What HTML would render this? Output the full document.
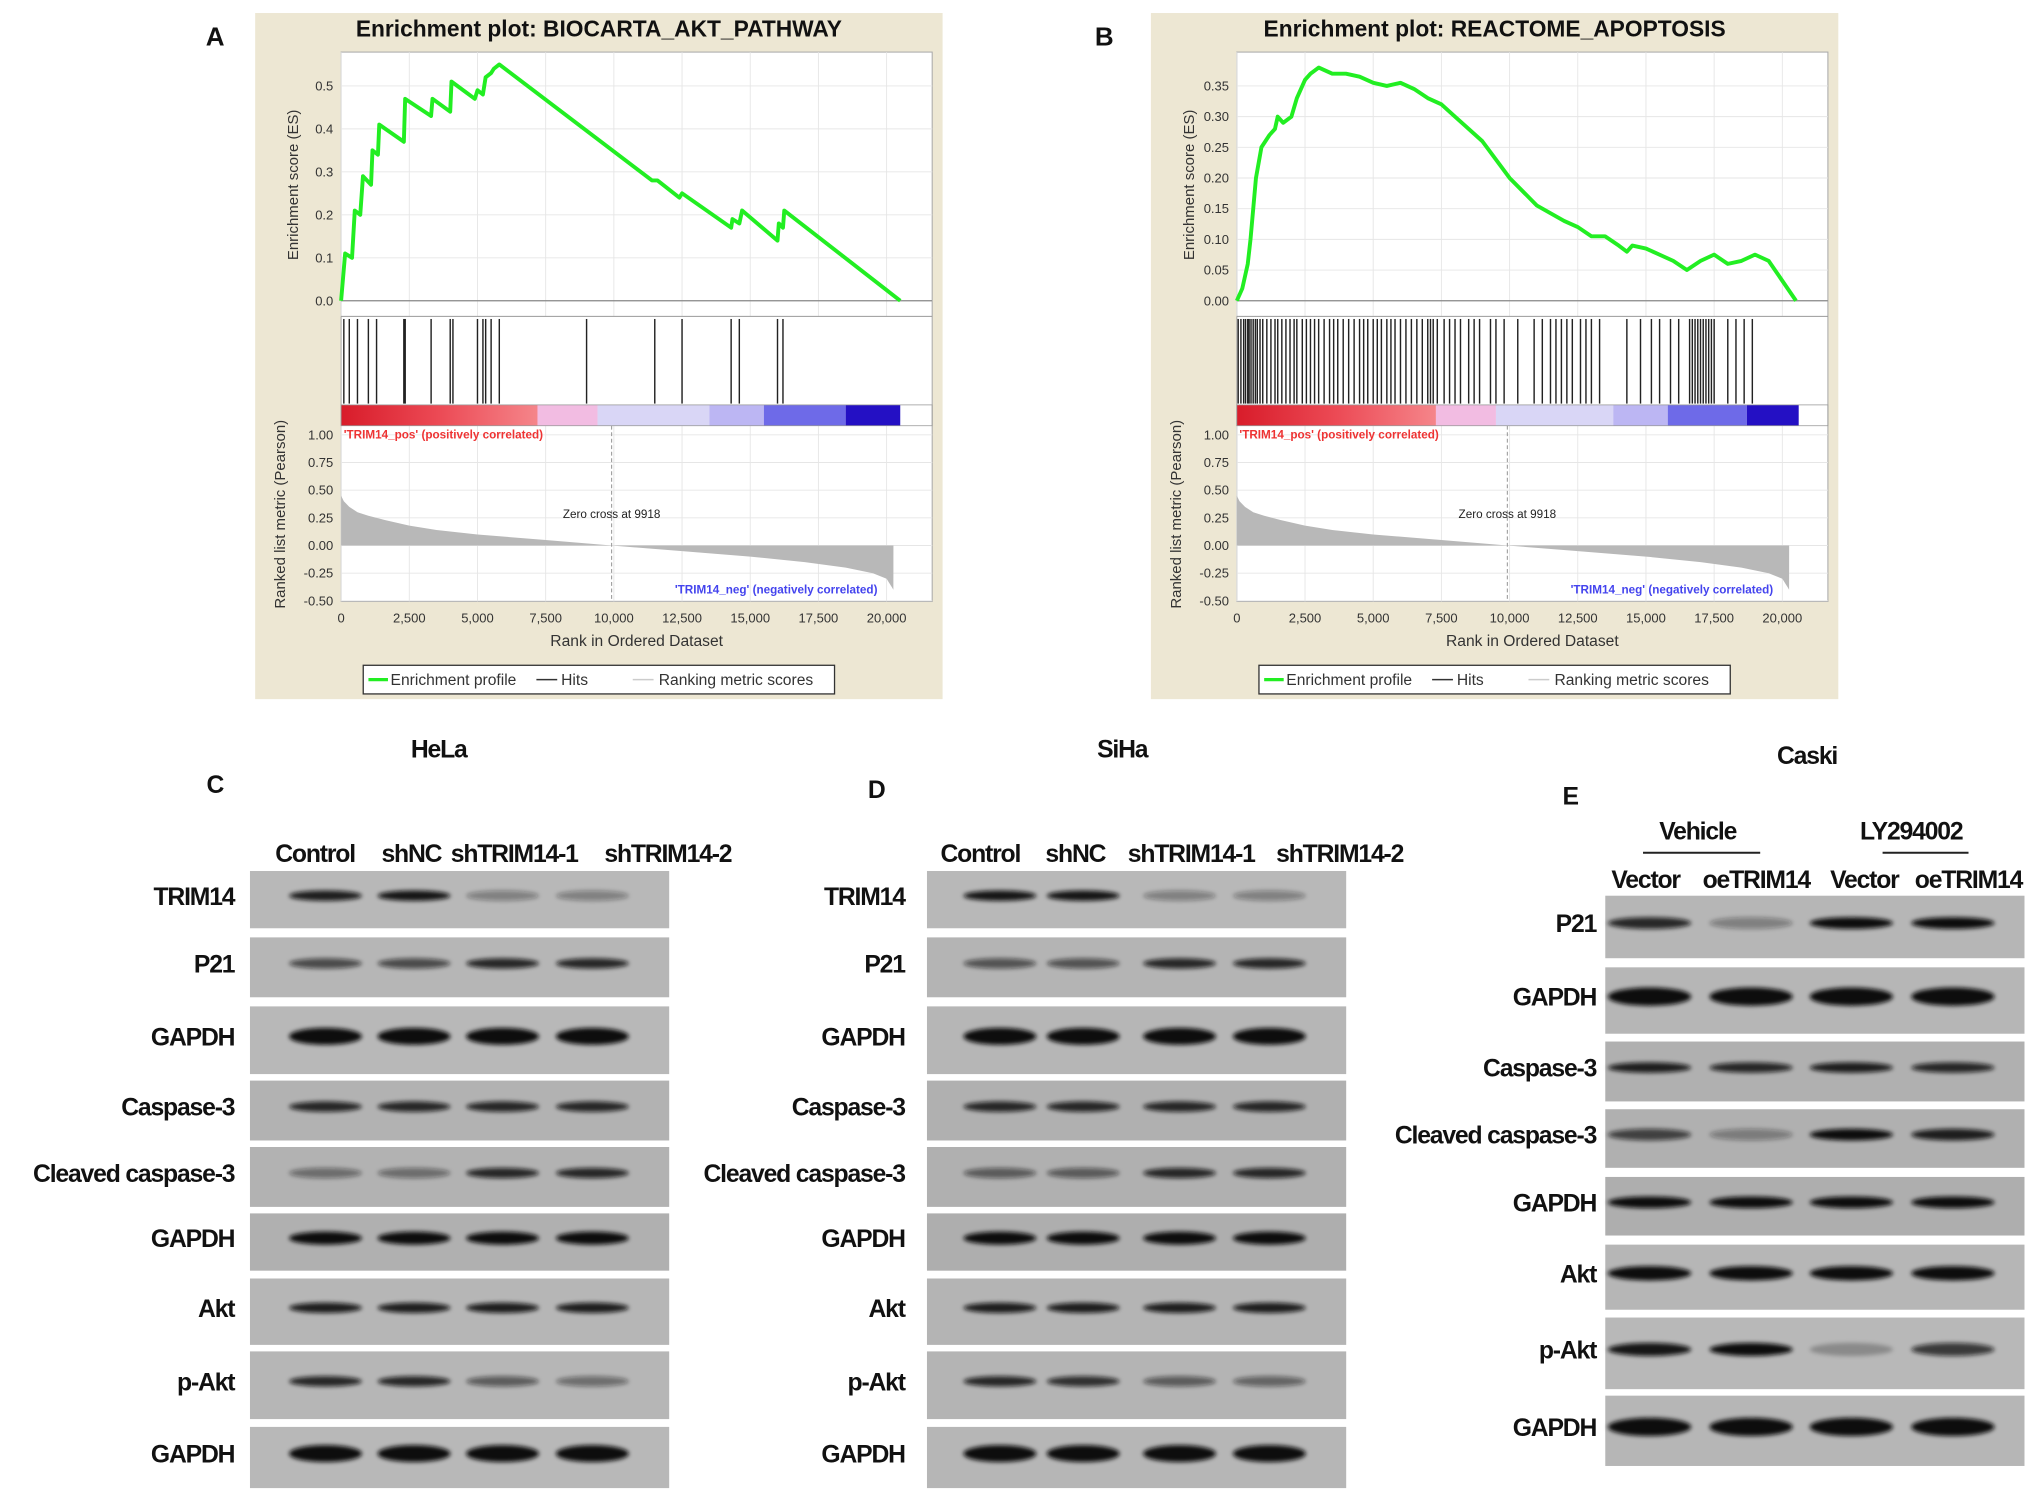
<!DOCTYPE html>
<html><head><meta charset="utf-8"><style>
html,body{margin:0;padding:0;background:#fff}
svg{display:block}
text{font-family:"Liberation Sans",Arial,sans-serif}
.lb{font-weight:bold;fill:#111}
</style></head><body>
<svg id="fig" width="2031" height="1495" viewBox="0 0 1560 1148.3" preserveAspectRatio="none" xmlns="http://www.w3.org/2000/svg">
<defs>
<filter id="bl" x="-20%" y="-100%" width="140%" height="300%"><feGaussianBlur stdDeviation="1.6"/></filter>
<linearGradient id="redg" x1="0" x2="1"><stop offset="0" stop-color="#d81c2a"/><stop offset="0.5" stop-color="#ec4a55"/><stop offset="1" stop-color="#f5858a"/></linearGradient>
</defs>
<g id="gsea"></g>
<g id="blots"></g>
</svg>
<script>
const NS="http://www.w3.org/2000/svg";
// ---- GSEA data ----
const rankTicks=[0,2500,5000,7500,10000,12500,15000,17500,20000];
const rankTickLabels=["0","2,500","5,000","7,500","10,000","12,500","15,000","17,500","20,000"];
const metricTicks=[1.0,0.75,0.5,0.25,0,-0.25,-0.5];
const metricTickLabels=["1.00","0.75","0.50","0.25","0.00","-0.25","-0.50"];
const metricRanks=[0,100,300,600,1000,1600,2500,3500,5000,7500,9918,12500,15000,17000,18500,19500,20000,20200,20250];
const metricVals=[0.45,0.4,0.35,0.3,0.27,0.23,0.18,0.14,0.1,0.05,0,-0.05,-0.1,-0.15,-0.2,-0.25,-0.3,-0.38,-0.4];
const esTicksA=[0,0.1,0.2,0.3,0.4,0.5];
const esTickLabelsA=["0.0","0.1","0.2","0.3","0.4","0.5"];
const esRanksA=[0,150,400,500,700,800,1100,1150,1350,1400,2300,2350,3300,3350,4000,4050,4900,5000,5200,5300,5500,5600,5800,11400,11600,12400,12500,14300,14350,14600,14700,16000,16050,16200,16250,20500];
const esValsA=[0,0.11,0.1,0.21,0.2,0.29,0.27,0.35,0.34,0.41,0.37,0.47,0.43,0.47,0.44,0.51,0.47,0.49,0.48,0.52,0.53,0.54,0.55,0.28,0.28,0.24,0.25,0.17,0.19,0.18,0.21,0.14,0.18,0.17,0.21,0];
const hitsA=[100,300,600,1000,1300,2300,2350,3300,4000,4100,5000,5200,5300,5500,5800,9000,11500,12500,14300,14600,16000,16200];
const esTicksB=[0,0.05,0.1,0.15,0.2,0.25,0.3,0.35];
const esTickLabelsB=["0.00","0.05","0.10","0.15","0.20","0.25","0.30","0.35"];
const esRanksB=[0,200,400,500,700,900,1200,1400,1500,1700,2000,2200,2500,2700,3000,3500,4000,4500,5000,5500,6000,6500,7000,7500,8000,9000,10000,11000,12000,12500,13000,13500,14000,14300,14500,15000,16000,16500,17000,17500,18000,18500,19000,19500,20500];
const esValsB=[0,0.02,0.06,0.1,0.2,0.25,0.27,0.28,0.3,0.29,0.3,0.33,0.36,0.37,0.38,0.37,0.37,0.365,0.355,0.35,0.355,0.345,0.33,0.32,0.3,0.26,0.2,0.155,0.13,0.12,0.105,0.105,0.09,0.08,0.09,0.085,0.065,0.05,0.065,0.075,0.06,0.065,0.075,0.065,0];
const hitsB=[50,150,250,320,400,450,520,600,680,750,850,950,1100,1250,1400,1500,1650,1800,1950,2100,2200,2400,2550,2700,2850,3000,3200,3400,3550,3700,3900,4100,4300,4500,4650,4800,5000,5150,5300,5500,5650,5800,6000,6200,6400,6600,6800,7000,7100,7200,7350,7600,7800,8000,8200,8500,8700,8900,9300,9500,9800,10300,10900,11200,11500,11700,11900,12100,12300,12600,12800,13000,13300,14300,14800,15200,15500,15900,16200,16600,16700,16800,16900,17000,17100,17200,17300,17400,17500,18000,18300,18600,18900];
const barBoundsA=[0,7200,9400,13500,15500,18500,20500];
const barBoundsB=[0,7300,9500,13800,15800,18700,20600];
const barColors=["url(#redg)","#f2bce2","#d9d6f6","#bcb6f3","#6e6ae8","#2410c4"];

function el(tag,attrs,parent,txt){const e=document.createElementNS(NS,tag);for(const k in attrs)e.setAttribute(k,attrs[k]);if(txt!==undefined)e.textContent=txt;parent.appendChild(e);return e;}

function gsea(dx,title,letter,esTicks,esLabels,esMax,esR,esV,hits,bounds){
  const g=el('g',{},document.getElementById('gsea'));
  
  
  const X=r=>262+dx+r*(419/20000);
  const esY=v=>231-v*(165/esMax);
  const mY=v=>419-v*(85/1.0);
  let t=el('text',{x:158+dx-(letter==='B'?5:0),y:35,'font-size':20,'class':'lb'},g,letter);
  
  let bg=el('rect',{x:196+dx,y:10,width:528,height:527,fill:'#ede7d3'},g);
  
  t=el('text',{x:460+dx,y:28,'font-size':17.5,'font-weight':'bold','text-anchor':'middle',fill:'#111'},g,title);
  
  el('rect',{x:262+dx,y:40,width:454,height:422,fill:'#fff',stroke:'#aaa','stroke-width':0.8},g);
  esTicks.forEach((v,i)=>{const y=esY(v);
    el('line',{x1:262+dx,x2:716+dx,y1:y,y2:y,stroke:'#e6e6e6','stroke-width':0.7},g);
    const tt=el('text',{x:256+dx,y:y+3.5,'font-size':10,'text-anchor':'end',fill:'#333'},g,esLabels[i]);
    });
  rankTicks.forEach(r=>{el('line',{x1:X(r),x2:X(r),y1:40,y2:243,stroke:'#e6e6e6','stroke-width':0.7},g);
    el('line',{x1:X(r),x2:X(r),y1:327,y2:462,stroke:'#e6e6e6','stroke-width':0.7},g);});
  el('line',{x1:262+dx,x2:716+dx,y1:esY(0),y2:esY(0),stroke:'#888','stroke-width':1},g);
  el('line',{x1:262+dx,x2:716+dx,y1:243,y2:243,stroke:'#999','stroke-width':0.8},g);
  t=el('text',{x:0,y:0,'font-size':11.5,'text-anchor':'middle',fill:'#333',transform:`translate(${229+dx},142) rotate(-90)`},g,'Enrichment score (ES)');
  
  const pts=esR.map((r,i)=>X(r).toFixed(1)+','+esY(esV[i]).toFixed(1)).join(' ');
  const pl=el('polyline',{points:pts,fill:'none',stroke:'#22ee22','stroke-width':3,'stroke-linejoin':'round'},g);
  
  hits.forEach(r=>{const l=el('line',{x1:X(r),x2:X(r),y1:245,y2:310,stroke:'#222','stroke-width':1.1},g);
    });
  for(let i=0;i<bounds.length-1;i++){const r=el('rect',{x:X(bounds[i]),y:311,width:X(bounds[i+1])-X(bounds[i]),height:16,fill:barColors[i]},g);
    }
  el('rect',{x:262+dx,y:311,width:454,height:16,fill:'none',stroke:'#999','stroke-width':0.6},g);
  metricTicks.forEach((v,i)=>{const y=mY(v);
    el('line',{x1:262+dx,x2:716+dx,y1:y,y2:y,stroke:'#e6e6e6','stroke-width':0.7},g);
    const tt=el('text',{x:256+dx,y:y+3.5,'font-size':10,'text-anchor':'end',fill:'#333'},g,metricTickLabels[i]);
    });
  let d='M'+X(0)+','+mY(0);
  metricRanks.forEach((r,i)=>{d+=' L'+X(r).toFixed(1)+','+mY(metricVals[i]).toFixed(1);});
  d+=' L'+X(20250)+','+mY(0)+' Z';
  const ar=el('path',{d:d,fill:'#b8b8b8'},g);
  
  el('line',{x1:X(9918),x2:X(9918),y1:327,y2:462,stroke:'#999','stroke-dasharray':'3,2','stroke-width':0.8},g);
  el('text',{x:X(9918),y:398,'font-size':9,'text-anchor':'middle',fill:'#222'},g,'Zero cross at 9918');
  el('text',{x:264+dx,y:337,'font-size':9,'font-weight':'bold',fill:'#ee3333'},g,"'TRIM14_pos' (positively correlated)");
  el('text',{x:674+dx,y:456,'font-size':9,'font-weight':'bold','text-anchor':'end',fill:'#4444ee'},g,"'TRIM14_neg' (negatively correlated)");
  t=el('text',{x:0,y:0,'font-size':11.5,'text-anchor':'middle',fill:'#333',transform:`translate(${219+dx},395) rotate(-90)`},g,'Ranked list metric (Pearson)');
  
  rankTicks.forEach((r,i)=>{const tt=el('text',{x:X(r),y:478,'font-size':10,'text-anchor':'middle',fill:'#333'},g,rankTickLabels[i]);
    });
  t=el('text',{x:489+dx,y:496,'font-size':12,'text-anchor':'middle',fill:'#333'},g,'Rank in Ordered Dataset');
  
  const lg=el('g',{},g);
  el('rect',{x:279+dx,y:511,width:362,height:22,fill:'#fff',stroke:'#333','stroke-width':1},lg);
  el('line',{x1:283+dx,x2:298+dx,y1:522,y2:522,stroke:'#22ee22','stroke-width':2.5},lg);
  el('text',{x:300+dx,y:526,'font-size':12,fill:'#333'},lg,'Enrichment profile');
  el('line',{x1:412+dx,x2:428+dx,y1:522,y2:522,stroke:'#333','stroke-width':1.2},lg);
  el('text',{x:431+dx,y:526,'font-size':12,fill:'#333'},lg,'Hits');
  el('line',{x1:486+dx,x2:502+dx,y1:522,y2:522,stroke:'#ccc','stroke-width':1.2},lg);
  el('text',{x:506+dx,y:526,'font-size':12,fill:'#333'},lg,'Ranking metric scores');
}
gsea(0,'Enrichment plot: BIOCARTA_AKT_PATHWAY','A',esTicksA,esTickLabelsA,0.5,esRanksA,esValsA,hitsA,barBoundsA);
gsea(688,'Enrichment plot: REACTOME_APOPTOSIS','B',esTicksB,esTickLabelsB,0.35,esRanksB,esValsB,hitsB,barBoundsB);

// ---- Western blots ----
const rowsC=[["TRIM14",669,713,0.85,[0.9,0.95,0.35,0.35],6],["P21",720,766,0.8,[0.65,0.65,0.85,0.85],6],["GAPDH",773,825,0.85,[1,1,1,1],11],["Caspase-3",830,876,0.7,[0.85,0.85,0.85,0.85],6],["Cleaved caspase-3",881,927,0.7,[0.45,0.45,0.85,0.85],6],["GAPDH",932,976,0.65,[1,1,1,1],8],["Akt",982,1033,0.8,[0.9,0.9,0.9,0.9],6],["p-Akt",1038,1090,0.8,[0.85,0.85,0.55,0.45],6],["GAPDH",1096,1143,0.85,[1,1,1,1],11]];
const rowsD=[["TRIM14",669,713,0.85,[0.95,0.95,0.35,0.35],6],["P21",720,766,0.75,[0.6,0.6,0.85,0.85],6],["GAPDH",773,825,0.8,[1,1,1,1],11],["Caspase-3",830,876,0.65,[0.85,0.85,0.85,0.85],6],["Cleaved caspase-3",881,927,0.65,[0.55,0.55,0.85,0.85],6],["GAPDH",932,976,0.6,[1,1,1,1],8],["Akt",982,1033,0.75,[0.9,0.9,0.9,0.9],6],["p-Akt",1038,1090,0.75,[0.85,0.8,0.55,0.5],6],["GAPDH",1096,1143,0.8,[1,1,1,1],11]];
const rowsE=[["P21",688,736,0.8,[0.85,0.35,1,1],7],["GAPDH",743,794,0.8,[1,1,1,1],12],["Caspase-3",800,846,0.65,[0.9,0.85,0.9,0.85],6],["Cleaved caspase-3",852,897,0.65,[0.7,0.35,1,0.9],7],["GAPDH",904,949,0.6,[1,1,1,1],7],["Akt",956,1006,0.8,[1,1,1,1],9],["p-Akt",1012,1067,0.85,[0.95,1,0.25,0.75],8],["GAPDH",1072,1126,0.8,[1,1,1,1],12]];
const lanesC=[250,318,386,455], lanesD=[768,832,906,975], lanesE=[1267,1345,1422,1500];
function blot(name,x0,x1,labelX,rows,lanes,bw){
  const g=el('g',{},document.getElementById('blots'));
  
  rows.forEach(r=>{
    const [lab,y0,y1,bgL,ints,th]=r;
    const c=Math.round(150+bgL*40);
    const rc=el('rect',{x:x0,y:y0,width:x1-x0,height:y1-y0,fill:`rgb(${c},${c},${c})`},g);
    
    const cy=(y0+y1)/2-3;
    lanes.forEach((lx,i)=>{const b=el('ellipse',{cx:lx,cy:cy,rx:bw,ry:th/2+1,fill:'#111','fill-opacity':ints[i],filter:'url(#bl)'},g);
      });
    const t=el('text',{x:labelX,y:cy+7,'font-size':19,'text-anchor':'end','class':'lb','letter-spacing':-0.9},g,lab);
    
  });
}
blot('blot-hela',192,514,180,rowsC,lanesC,28);
blot('blot-siha',712,1034,695,rowsD,lanesD,28);
blot('blot-caski',1233,1555,1226,rowsE,lanesE,32);

const B=document.getElementById('blots');
const texts=[["HeLa",337,582,"middle","cell-line-title"],["SiHa",862,582,"middle","cell-line-title"],["Caski",1388,587,"middle","cell-line-title"],
["C",165,609,"middle","panel-label"],["D",673,613,"middle","panel-label"],["E",1206,618,"middle","panel-label"],
["Control",242,662,"middle","lane-label"],["shNC",316,662,"middle","lane-label"],["shTRIM14-1",395,662,"middle","lane-label"],["shTRIM14-2",513,662,"middle","lane-label"],
["Control",753,662,"middle","lane-label"],["shNC",826,662,"middle","lane-label"],["shTRIM14-1",915,662,"middle","lane-label"],["shTRIM14-2",1029,662,"middle","lane-label"],
["Vehicle",1304,645,"middle","group-label"],["LY294002",1468,645,"middle","group-label"],
["Vector",1264,682,"middle","lane-label"],["oeTRIM14",1349,682,"middle","lane-label"],["Vector",1432,682,"middle","lane-label"],["oeTRIM14",1512,682,"middle","lane-label"]];
texts.forEach(a=>{const t=el('text',{x:a[1],y:a[2],'font-size':19,'text-anchor':a[3],'class':'lb','letter-spacing':-0.9},B,a[0]);
  });
[[1262,1352],[1446,1512]].forEach(s=>{const l=el('line',{x1:s[0],x2:s[1],y1:655,y2:655,stroke:'#222','stroke-width':1.5},B);
  });
</script>
</body></html>
